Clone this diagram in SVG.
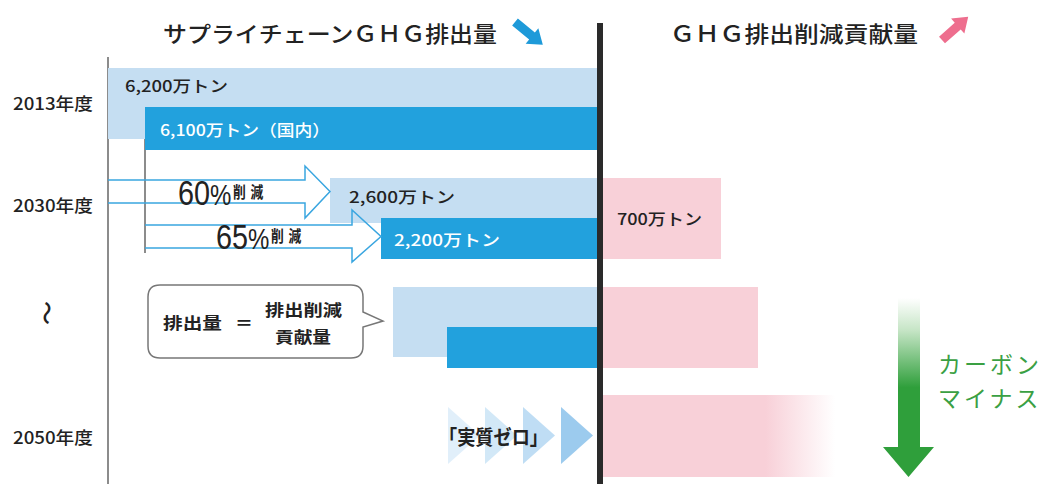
<svg xmlns="http://www.w3.org/2000/svg" width="1050" height="484" viewBox="0 0 1050 484">
<defs>
<style>
text{font-family:"Noto Sans CJK JP","Liberation Sans",sans-serif;fill:#222;}
.title{font-size:22px;font-weight:500;}
.year{font-size:17px;font-weight:500;}
.val{font-size:16px;font-weight:500;}
.valw{font-size:16px;font-weight:500;fill:#fff;}
.light{fill:#c5def2;}
.dark{fill:#22a1dd;}
.pink{fill:#f8d0d8;}
.axis{stroke:#8c8c8c;stroke-width:2;fill:none;}
.outline{stroke:#3aa6e0;stroke-width:1.5;fill:none;stroke-linejoin:miter;}
.big{font-family:"Liberation Sans",sans-serif;font-size:36px;font-weight:400;}
.pct{font-family:"Liberation Sans",sans-serif;font-size:30px;font-weight:400;}
.small{font-size:16px;font-weight:700;letter-spacing:6px;}
.bub{font-size:16px;font-weight:700;}
.zero{font-size:20px;font-weight:700;}
.wave{font-size:24px;font-weight:500;}
.green{font-size:23px;font-weight:400;fill:#3aa043;letter-spacing:3px;}
.chev{fill:#9ccbee;}
</style>
<linearGradient id="fadePink" x1="603" y1="0" x2="835" y2="0" gradientUnits="userSpaceOnUse">
<stop offset="0" stop-color="#f8d0d8"/>
<stop offset="0.7" stop-color="#f8d0d8"/>
<stop offset="1" stop-color="#f8d0d8" stop-opacity="0"/>
</linearGradient>
<linearGradient id="greenGrad" x1="0" y1="298" x2="0" y2="477" gradientUnits="userSpaceOnUse">
<stop offset="0" stop-color="#ffffff"/>
<stop offset="0.18" stop-color="#c6e5c6"/>
<stop offset="0.5" stop-color="#2f9f3b"/>
<stop offset="1" stop-color="#2f9f3b"/>
</linearGradient>
</defs>

<rect width="1050" height="484" fill="#fff"/>

<g id="headers">
<text class="title" x="163" y="42" textLength="334" lengthAdjust="spacingAndGlyphs">サプライチェーンＧＨＧ排出量</text>
<polygon fill="#1e9ad9" transform="translate(515,22) rotate(39.4)" points="0,-4.5 22,-4.5 22,-10 36,0 22,10 22,4.5 0,4.5"/>
<text class="title" x="670" y="42" textLength="248" lengthAdjust="spacingAndGlyphs">ＧＨＧ排出削減貢献量</text>
<polygon fill="#ee6e8e" transform="translate(942,40) rotate(-41.5)" points="0,-4.5 21,-4.5 21,-10 35,0 21,10 21,4.5 0,4.5"/>
</g>

<g id="years">
<text class="year" x="13" y="109.5" textLength="80" lengthAdjust="spacingAndGlyphs">2013年度</text>
<text class="year" x="13" y="211.5" textLength="80" lengthAdjust="spacingAndGlyphs">2030年度</text>
<text class="wave" x="48" y="313" transform="rotate(90 48 313)" text-anchor="middle" dominant-baseline="central">～</text>
<text class="year" x="13" y="443.5" textLength="80" lengthAdjust="spacingAndGlyphs">2050年度</text>
</g>

<g id="axes">
<line class="axis" x1="108" y1="57" x2="108" y2="484"/>
<line class="axis" x1="145" y1="103" x2="145" y2="253"/>
</g>

<g id="bar2013">
<rect class="light" x="108" y="68" width="489" height="71"/>
<rect class="dark" x="145" y="107" width="452" height="43"/>
<text class="val" x="125" y="92" textLength="103" lengthAdjust="spacingAndGlyphs">6,200万トン</text>
<text class="valw" x="160" y="136" textLength="170" lengthAdjust="spacingAndGlyphs">6,100万トン（国内）</text>
</g>

<g id="bar2030">
<rect class="light" x="330" y="178" width="267" height="45"/>
<rect class="dark" x="381" y="218" width="216" height="41"/>
<text class="val" x="349" y="203" textLength="106" lengthAdjust="spacingAndGlyphs">2,600万トン</text>
<text class="valw" x="394" y="246" textLength="106" lengthAdjust="spacingAndGlyphs">2,200万トン</text>
</g>

<g id="contrib2030">
<rect class="pink" x="603" y="178" width="118" height="81"/>
<text class="val" x="617" y="225" textLength="85" lengthAdjust="spacingAndGlyphs">700万トン</text>
</g>

<g id="connectors">
<polyline class="outline" points="108,180 305,180 305,166 330,191.5 305,218 305,203 108,203"/>
<polyline class="outline" points="145,225 352,225 352,210 381,236.5 352,262 352,248 145,248"/>
</g>

<g id="reduce60">
<text transform="translate(178,205) scale(0.8,1)"><tspan class="big">60</tspan><tspan class="pct">%</tspan><tspan class="small" dx="2" dy="-7">削減</tspan></text>
</g>
<g id="reduce65">
<text transform="translate(216,249) scale(0.8,1)"><tspan class="big">65</tspan><tspan class="pct">%</tspan><tspan class="small" dx="2" dy="-7">削減</tspan></text>
</g>

<g id="barMid">
<rect class="light" x="393" y="287" width="204" height="70"/>
<rect class="dark" x="447" y="327" width="150" height="41"/>
<rect class="pink" x="603" y="287" width="155" height="81"/>
</g>

<g id="callout">
<path d="M160,285 H351 Q363,285 363,297 V312 L383,321 L363,327 V346 Q363,358 351,358 H160 Q148,358 148,346 V297 Q148,285 160,285 Z" fill="#fff" stroke="#777" stroke-width="1.5"/>
<text class="bub" x="163" y="329" textLength="59" lengthAdjust="spacingAndGlyphs">排出量</text>
<text class="bub" x="235" y="329" textLength="18" lengthAdjust="spacingAndGlyphs">＝</text>
<text class="bub" x="265" y="316" textLength="77" lengthAdjust="spacingAndGlyphs">排出削減</text>
<text class="bub" x="275" y="343" textLength="56" lengthAdjust="spacingAndGlyphs">貢献量</text>
</g>

<g id="bar2050">
<rect x="603" y="395" width="232" height="82" fill="url(#fadePink)"/>
<polygon class="chev" opacity="0.3" points="448,407 480,435.5 448,464"/>
<polygon class="chev" opacity="0.45" points="485,407 517,435.5 485,464"/>
<polygon class="chev" opacity="0.65" points="523,407 555,435.5 523,464"/>
<polygon class="chev" opacity="1" points="561,407 593,435.5 561,464"/>
<text class="zero" x="439" y="444.5" textLength="109" lengthAdjust="spacingAndGlyphs">「実質ゼロ」</text>
</g>

<g id="divider">
<rect x="597" y="23" width="6" height="461" fill="#2a2a2a"/>
</g>

<g id="carbonMinus">
<path d="M898,298 H920 V447 H934 L908.5,477 L883,447 H898 Z" fill="url(#greenGrad)"/>
<text class="green" x="938" y="372.7">カーボン</text>
<text class="green" x="938" y="406.7">マイナス</text>
</g>
</svg>
